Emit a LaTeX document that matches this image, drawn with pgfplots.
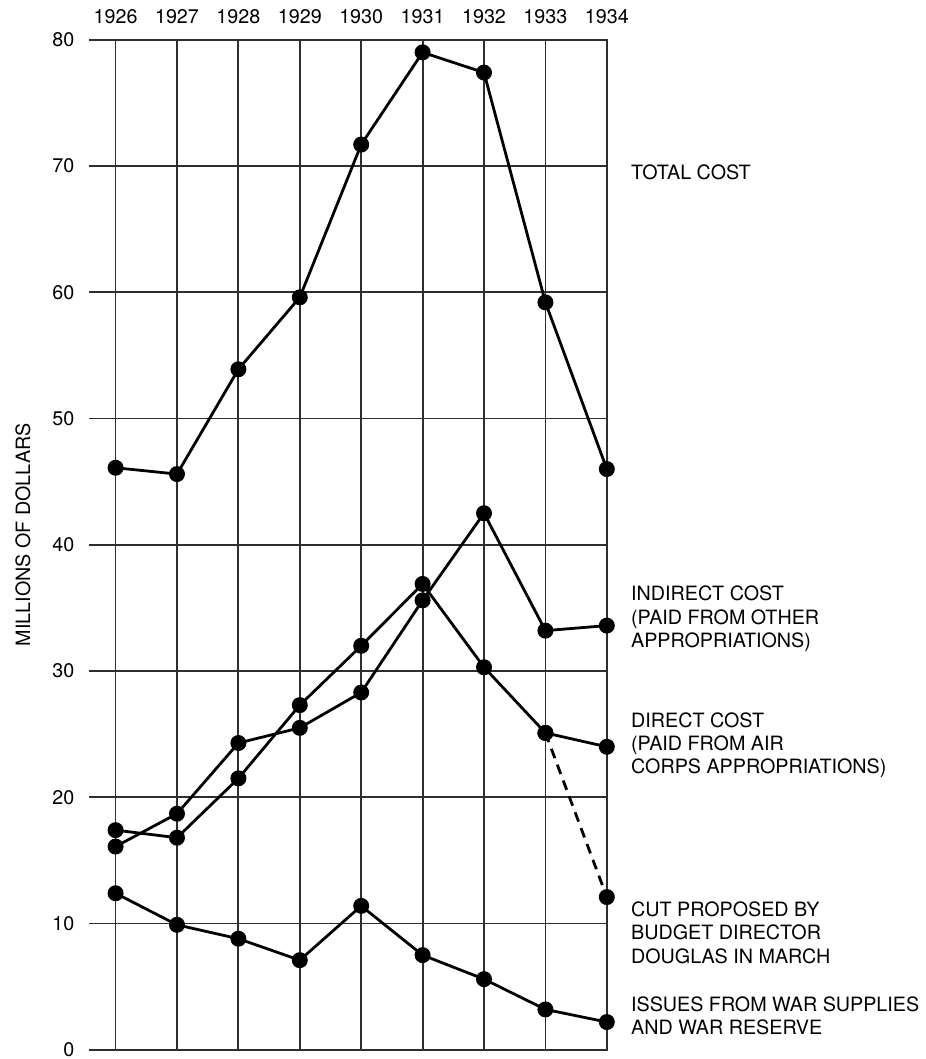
\documentclass[border=0pt]{standalone}
\usepackage{fontspec}
\setmainfont{TeX Gyre Heros}
\usepackage{pgfplots}
\usepackage{pgfplotstable}
\pgfplotsset{compat=1.18}
\pgfplotstableread{
year total indirect direct issues
1926 46.1 16.1 17.4 12.4
1927 45.6 18.7 16.8 9.9
1928 53.9 24.3 21.5 8.8
1929 59.6 25.5 27.3 7.1
1930 71.7 28.3 32.0 11.4
1931 79.0 35.6 36.9 7.5
1932 77.4 42.5 30.3 5.6
1933 59.2 33.2 25.1 3.2
1934 46.0 33.6 24.0 2.2
}\datatable
\pgfplotstableread{
year cut
1933 25.1
1934 12.1
}\cuttable
\newcommand{\lbl}{\fontsize{9.9}{11.65}\selectfont}
\begin{document}
\begin{tikzpicture}
\begin{axis}[
  scale only axis, width=246.5pt, height=506.85pt,
  xmin=0, xmax=8, ymin=0, ymax=80,
  xtick={0,1,...,8},
  xticklabels={1926,1927,1928,1929,1930,1931,1932,1933,1934},
  ytick={0,10,...,80},
  grid=major,
  major grid style={line width=0.9pt, color=black!82},
  axis line style={line width=0.9pt, color=black!82},
  major tick length=0pt,
  xticklabel pos=upper,
  /pgf/number format/assume math mode=true,
  tick label style={font=\lbl},
  xticklabel style={anchor=base, inner sep=0pt, yshift=8pt},
  yticklabel style={anchor=east, inner sep=0pt, xshift=-20.5pt},
  clip=false,
  ser/.style={line width=1.4pt, color=black, mark=*, mark size=3.3pt, mark options={solid, fill=black}},
]
\pgfplotsinvokeforeach{0,10,20,30,40,50,60,70,80}{
  \draw[line width=0.9pt, color=black!82] (axis cs:0,#1) -- ++(-13.5pt,0);
}
\addplot[ser] table[x expr=\thisrow{year}-1926, y=total] {\datatable};
\addplot[ser] table[x expr=\thisrow{year}-1926, y=indirect] {\datatable};
\addplot[ser] table[x expr=\thisrow{year}-1926, y=direct] {\datatable};
\addplot[ser] table[x expr=\thisrow{year}-1926, y=issues] {\datatable};
\addplot[ser, dash pattern=on 5pt off 3.5pt] table[x expr=\thisrow{year}-1926, y=cut] {\cuttable};

\node[xshift=-46.5pt, rotate=90, font=\lbl] at (rel axis cs:0,0.51) {MILLIONS OF DOLLARS};

\node[anchor=north west, inner sep=0pt, align=left, font=\lbl] at (axis cs:8,69.6) [xshift=12pt, yshift=3.5pt] {TOTAL COST};
\node[anchor=north west, inner sep=0pt, align=left, font=\lbl] at (axis cs:8,36.2) [xshift=12pt, yshift=3.5pt] {INDIRECT COST\\(PAID FROM OTHER\\APPROPRIATIONS)};
\node[anchor=north west, inner sep=0pt, align=left, font=\lbl] at (axis cs:8,26.2) [xshift=12pt, yshift=3.5pt] {DIRECT COST\\(PAID FROM AIR\\CORPS APPROPRIATIONS)};
\node[anchor=north west, inner sep=0pt, align=left, font=\lbl] at (axis cs:8,11.2) [xshift=12pt, yshift=3.5pt] {CUT PROPOSED BY\\BUDGET DIRECTOR\\DOUGLAS IN MARCH};
\node[anchor=north west, inner sep=0pt, align=left, font=\lbl] at (axis cs:8,3.7) [xshift=12pt, yshift=3.5pt] {ISSUES FROM WAR SUPPLIES\\AND WAR RESERVE};

\coordinate (BL) at (axis cs:0,0);
\end{axis}
\pgfresetboundingbox
\path[use as bounding box] (BL) ++(-58pt,-4.6pt) rectangle ++(464.2pt,531.4pt);
\end{tikzpicture}
\end{document}
